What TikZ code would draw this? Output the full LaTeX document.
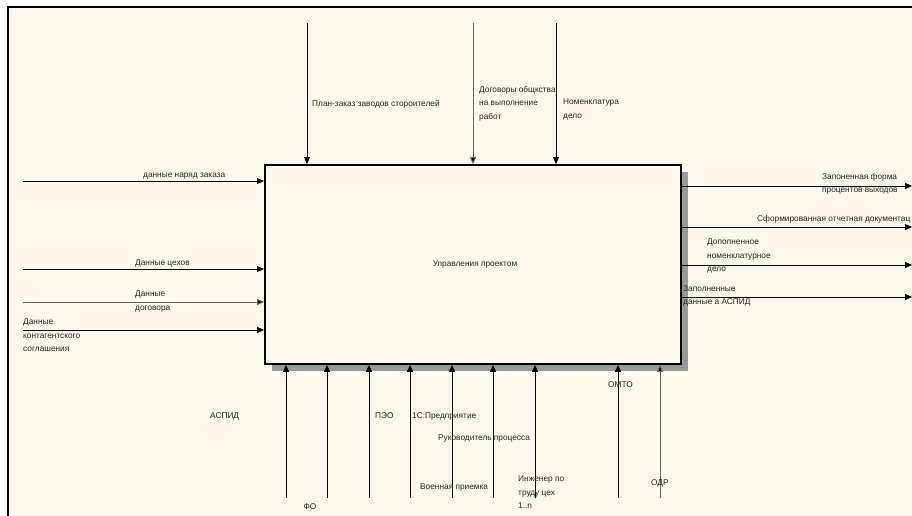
\documentclass[tikz,border=0pt]{standalone}
\usepackage{fontspec}
\setmainfont{Liberation Sans}
\usetikzlibrary{arrows.meta,patterns}
\definecolor{cream}{HTML}{FEF9EE}
\tikzset{
  flow/.style={draw=black, line width=0.9pt, -{Triangle[length=7pt,width=6pt]}},
  flowg/.style={flow, draw=black!60, -{Triangle[length=7pt,width=6pt,fill=black]}},
  lbl/.style={inner sep=0pt, font=\fontsize{8.3}{13.5}\selectfont, align=left, text=black!85},
  func/.style={draw=black, line width=1.8pt, fill=cream},
  shade/.style={fill=black!40}
}
\begin{document}
\begin{tikzpicture}[x=1pt,y=-1pt]
\useasboundingbox (0,0) rectangle (912,515);
\fill[white] (0,0) rectangle (912,515);
\clip (0,0) rectangle (912,515);
\fill[cream] (8,7) rectangle (920,525);
\draw[line width=2pt] (8,525) -- (8,7) -- (920,7);
% shadow
\fill[shade] (680,172) rectangle (688,371);
\fill[shade] (272,363) rectangle (688,371);
% function box
\node[func, minimum width=416pt, minimum height=199pt, anchor=north west] (box) at (264,164) {};
\node[lbl, align=center] (boxlbl) at (475,264) {Управления проектом};
% free ends
\coordinate (i1) at (23,181);
\coordinate (i2) at (23,269);
\coordinate (i3) at (23,302);
\coordinate (i4) at (23,330);
\coordinate (c1) at (307,23);
\coordinate (c2) at (473,23);
\coordinate (c3) at (556,23);
\coordinate (o1) at (912,186);
\coordinate (o2) at (912,227);
\coordinate (o3) at (912,265);
\coordinate (o4) at (912,297);
% inputs
\draw[flow] (i1) -- (i1 -| box.west);
\draw[flow] (i2) -- (i2 -| box.west);
\draw[flowg] (i3) -- (i3 -| box.west);
\draw[flow] (i4) -- (i4 -| box.west);
% controls
\draw[flow] (c1) -- (c1 |- box.north);
\draw[flowg] (c2) -- (c2 |- box.north);
\draw[flow] (c3) -- (c3 |- box.north);
% outputs
\draw[flow] (o1 -| box.east) -- (o1);
\draw[flow] (o2 -| box.east) -- (o2);
\draw[flow] (o3 -| box.east) -- (o3);
\draw[flow] (o4 -| box.east) -- (o4);
% mechanisms
\foreach \n/\x in {m1/286,m2/327,m3/369,m4/410,m5/452,m6/493,m7/535,m8/618,m9/660} {
  \coordinate (\n) at (\x,498);
}
\foreach \n in {m1,m2,m3,m4,m5,m6,m7,m8} {
  \draw[flow] (\n) -- (\n |- box.south);
}
\draw[flowg] (m9) -- (m9 |- box.south);
% labels
\node[lbl, anchor=base west] (l1) at (143,177) {данные наряд заказа};
\node[lbl, anchor=base west] (l2) at (135,265) {Данные цехов};
\node[lbl, anchor=north west] (l3) at (135,291) {Данные\\договора};
\node[lbl, anchor=north west] (l4) at (23,319) {Данные\\контагентского\\соглашения};
\node[lbl, anchor=base west] (l5) at (312,106) {План-заказ заводов стороителей};
\node[lbl, anchor=north west] (l6) at (479,86) {Договоры общкства\\на выполнение\\работ};
\node[lbl, anchor=north west] (l7) at (563,99) {Номенклатура\\дело};
\node[lbl, anchor=north west] (l8) at (822,173) {Запоненная форма\\процентов выходов};
\node[lbl, anchor=base west] (l9) at (757,221) {Сформированная отчетная документац};
\node[lbl, anchor=north west] (l10) at (707,239) {Дополненное\\номенклатурное\\дело};
\node[lbl, anchor=north west] (l11) at (683,285) {Заполненные\\данные а АСПИД};
\node[lbl, anchor=base west] (l12) at (210,418) {АСПИД};
\node[lbl, anchor=base] (l13) at (310,509) {ФО};
\node[lbl, anchor=base west] (l14) at (375,418) {ПЭО};
\node[lbl, anchor=base west] (l15) at (412,418) {1С:Предприятие};
\node[lbl, anchor=base west] (l16) at (438,440) {Руководитель процесса};
\node[lbl, anchor=base west] (l17) at (420,489) {Военная приемка};
\node[lbl, anchor=north west] (l18) at (518,476) {Инженер по\\труду цех\\1..n};
\node[lbl, anchor=base west] (l19) at (608,387) {ОМТО};
\node[lbl, anchor=base west] (l20) at (651,485) {ОДР};
\end{tikzpicture}
\end{document}
